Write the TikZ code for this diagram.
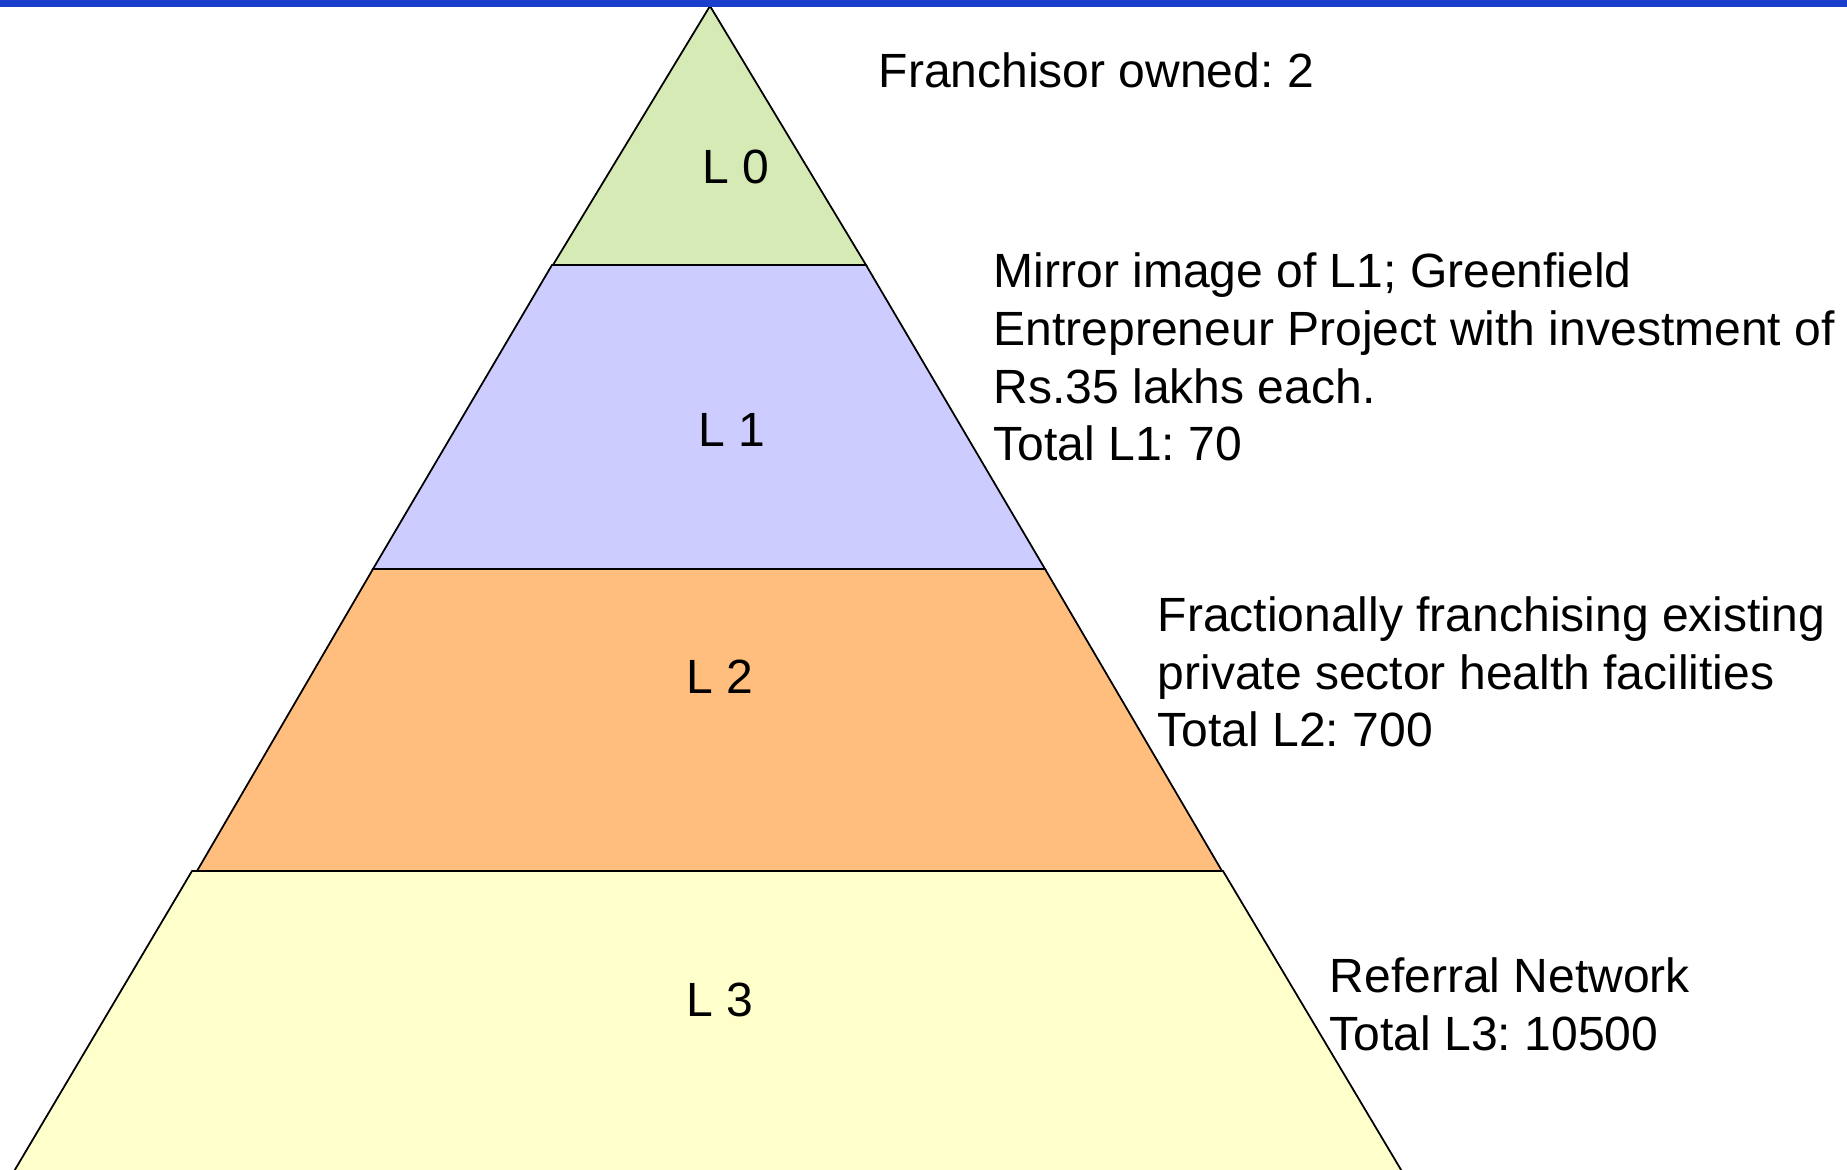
\documentclass[tikz,border=0pt]{standalone}
\usepackage{fontspec}
\setmainfont{Liberation Sans}
\frenchspacing
\definecolor{barblue}{RGB}{28,62,204}
\definecolor{lzero}{RGB}{214,234,181}
\definecolor{lone}{RGB}{204,204,255}
\definecolor{ltwo}{RGB}{255,190,125}
\definecolor{lthree}{RGB}{255,255,204}
\begin{document}
\begin{tikzpicture}[x=0.01cm,y=-0.01cm,
  layer/.style={draw=black,line width=0.5pt,line join=miter},
  lbl/.style={inner sep=0pt,anchor=base west,font=\fontsize{13.66pt}{16.42pt}\selectfont\frenchspacing},
  desc/.style={lbl,align=left}]
\useasboundingbox (0,0) rectangle (1847,1170);
\begin{scope}
\clip (0,0) rectangle (1847,1170);
\fill[white] (0,0) rectangle (1847,1170);
\filldraw[layer,fill=lthree] (192,871) -- (1223,871) -- (1419,1200) -- (-3,1200) -- cycle;
\filldraw[layer,fill=ltwo] (373,569) -- (1045,569) -- (1222,871) -- (197,871) -- cycle;
\filldraw[layer,fill=lone] (552,265) -- (866,265) -- (1045,569) -- (373,569) -- cycle;
\filldraw[layer,fill=lzero] (710,6) -- (866,265) -- (553,265) -- cycle;
\fill[barblue] (0,0) rectangle (1847,7);
\end{scope}
\node[lbl] (l0) at (702,184) {L 0};
\node[lbl] (l1) at (698,446) {L 1};
\node[lbl] (l2) at (686,694) {L 2};
\node[lbl] (l3) at (686,1016) {L 3};
% multi-line nodes: base anchor lies on the last line
\node[desc] (d0) at (878,88) {Franchisor owned: 2};
\node[desc] (d1) at (993,461) {Mirror image of L1; Greenfield\\Entrepreneur Project with investment of\\Rs.35 lakhs each.\\Total L1: 70};
\node[desc] (d2) at (1157,747) {Fractionally franchising existing\\private sector health facilities\\Total L2: 700};
\node[desc] (d3) at (1329,1050) {Referral Network\\Total L3: 10500};
\end{tikzpicture}
\end{document}
